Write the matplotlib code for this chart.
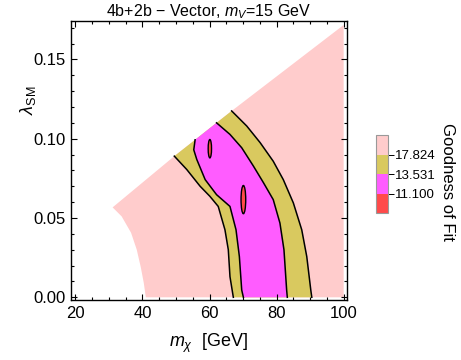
import numpy as np
import matplotlib
matplotlib.use("Agg")
import matplotlib.pyplot as plt
from matplotlib.colors import ListedColormap, BoundaryNorm
from matplotlib.cm import ScalarMappable
from matplotlib.patches import Ellipse
from matplotlib.ticker import MultipleLocator, FormatStrFormatter

plt.rcParams['font.family'] = ['Liberation Sans', 'DejaVu Sans']
plt.rcParams['mathtext.fontset'] = 'custom'
plt.rcParams['mathtext.rm'] = 'Liberation Sans'
plt.rcParams['mathtext.it'] = 'Liberation Sans:italic'

# chi2 levels of the bands
levels = [11.100, 13.531, 17.824]
level_labels = ['11.100', '13.531', '17.824']
colors = ['#ff4a4a', '#ff5cff', '#d9c95f', '#ffcccc']  # red, magenta, yellow, pink

# edge of the scanned region (left side and upper side)
left_lam = [0.0, 0.009, 0.019, 0.030, 0.0407, 0.051, 0.0567]
left_x = [41.0, 40.4, 39.5, 38.3, 36.6, 33.8, 31.1]
top_x = [31.1, 49.5, 55.7, 62.1, 66.6, 100.0]
top_lam = [0.0567, 0.0890, 0.0993, 0.110, 0.1175, 0.1717]
right_x = 100.0

# chi2 = 17.824 contour (left and right branch)
outer_left_lam = [0.0, 0.013, 0.030, 0.0426, 0.0573, 0.0637, 0.070, 0.0806, 0.0890]
outer_left_x = [67.1, 66.1, 65.6, 64.6, 62.6, 60.1, 57.2, 53.2, 49.5]
outer_right_lam = [0.0, 0.0046, 0.0257, 0.0426, 0.0595, 0.0742, 0.0858, 0.0975, 0.108, 0.1175]
outer_right_x = [90.5, 90.2, 89.0, 87.5, 85.0, 82.0, 79.0, 75.1, 71.1, 66.6]

# chi2 = 13.531 contour
inner_left_lam = [0.0, 0.0046, 0.0257, 0.0426, 0.0573, 0.0647, 0.0742, 0.0869, 0.093, 0.0993]
inner_left_x = [70.1, 69.6, 68.9, 67.9, 66.1, 62.1, 58.7, 56.2, 55.3, 55.7]
inner_right_lam = [0.0, 0.0046, 0.030, 0.0468, 0.0616, 0.0722, 0.0827, 0.0943, 0.1027, 0.110]
inner_right_x = [83.2, 83.0, 82.2, 81.0, 79.0, 76.1, 73.1, 69.6, 66.1, 62.1]

# chi2 = 11.1 islands
island_x = [60.1, 70.1]
island_lam = [0.0937, 0.0616]
island_w = [1.0, 1.4]
island_h = [0.0116, 0.0178]


def band(lx, llam, rx, rlam):
    tx = [x for x in top_x if lx[-1] < x < rx[-1]]
    tl = [l for x, l in zip(top_x, top_lam) if lx[-1] < x < rx[-1]]
    xs = list(lx) + tx + list(rx)[::-1]
    ls = list(llam) + tl + list(rlam)[::-1]
    return xs, ls


fig = plt.figure(figsize=(4.61, 3.6), dpi=100)
ax = fig.add_axes([70.7/461, 60/360, (347-70.7)/461, (300-20.7)/360])

# scanned region
px = left_x + top_x[1:] + [right_x]
pl = left_lam + top_lam[1:] + [0.0]
ax.fill(px, pl, color=colors[3], lw=0)

xs, ls = band(outer_left_x, outer_left_lam, outer_right_x, outer_right_lam)
ax.fill(xs, ls, color=colors[2], lw=0)
xs, ls = band(inner_left_x, inner_left_lam, inner_right_x, inner_right_lam)
ax.fill(xs, ls, color=colors[1], lw=0)

for cx, cl, w, h in zip(island_x, island_lam, island_w, island_h):
    ax.add_patch(Ellipse((cx, cl), w, h, facecolor=colors[0], edgecolor='black', lw=1.0))

for ex, el in [(outer_left_x, outer_left_lam), (outer_right_x, outer_right_lam),
               (inner_left_x, inner_left_lam), (inner_right_x, inner_right_lam)]:
    ax.plot(ex, el, color='black', lw=1.1)

ax.set_xlim(18.6, 101.0)
ax.set_ylim(-0.0017, 0.1744)
ax.xaxis.set_major_locator(MultipleLocator(20))
ax.xaxis.set_minor_locator(MultipleLocator(5))
ax.yaxis.set_major_locator(MultipleLocator(0.05))
ax.yaxis.set_minor_locator(MultipleLocator(0.01))
ax.yaxis.set_major_formatter(FormatStrFormatter('%.2f'))
ax.tick_params(which='both', direction='in', top=True, right=True, labelsize=12, width=0.8)
ax.tick_params(which='major', length=4.5, pad=4)
ax.tick_params(which='minor', length=2.5)
for s in ax.spines.values():
    s.set_linewidth(1.0)

ax.set_xlabel(r'$m_\chi$  [GeV]', fontsize=13, labelpad=8)
ax.set_ylabel(r'$\lambda_{\rm SM}$', fontsize=13)
ax.yaxis.set_label_coords(-0.118, 0.715)
ax.set_title(r'4b+2b $-$ Vector, $m_V$=15 GeV', fontsize=11.5, pad=3)

# legend bar
cax = fig.add_axes([375.7/461, (360-213.3)/360, 12/461, 78.3/360])
bounds = [8.0] + levels + [22.0]
cmap = ListedColormap(colors)
norm = BoundaryNorm(bounds, cmap.N)
cb = fig.colorbar(ScalarMappable(norm=norm, cmap=cmap), cax=cax, spacing='uniform',
                  ticks=levels)
cb.ax.set_yticklabels(level_labels)
cb.ax.minorticks_off()
cb.ax.tick_params(labelsize=9.5, length=4, width=0.7, direction='out', pad=1)
cb.outline.set_edgecolor('#999999')
cb.outline.set_linewidth(0.8)
fig.text(447/461, 1 - 182/360, 'Goodness of Fit', rotation=270, fontsize=12,
         ha='center', va='center')

fig.savefig('out.png', dpi=100)
